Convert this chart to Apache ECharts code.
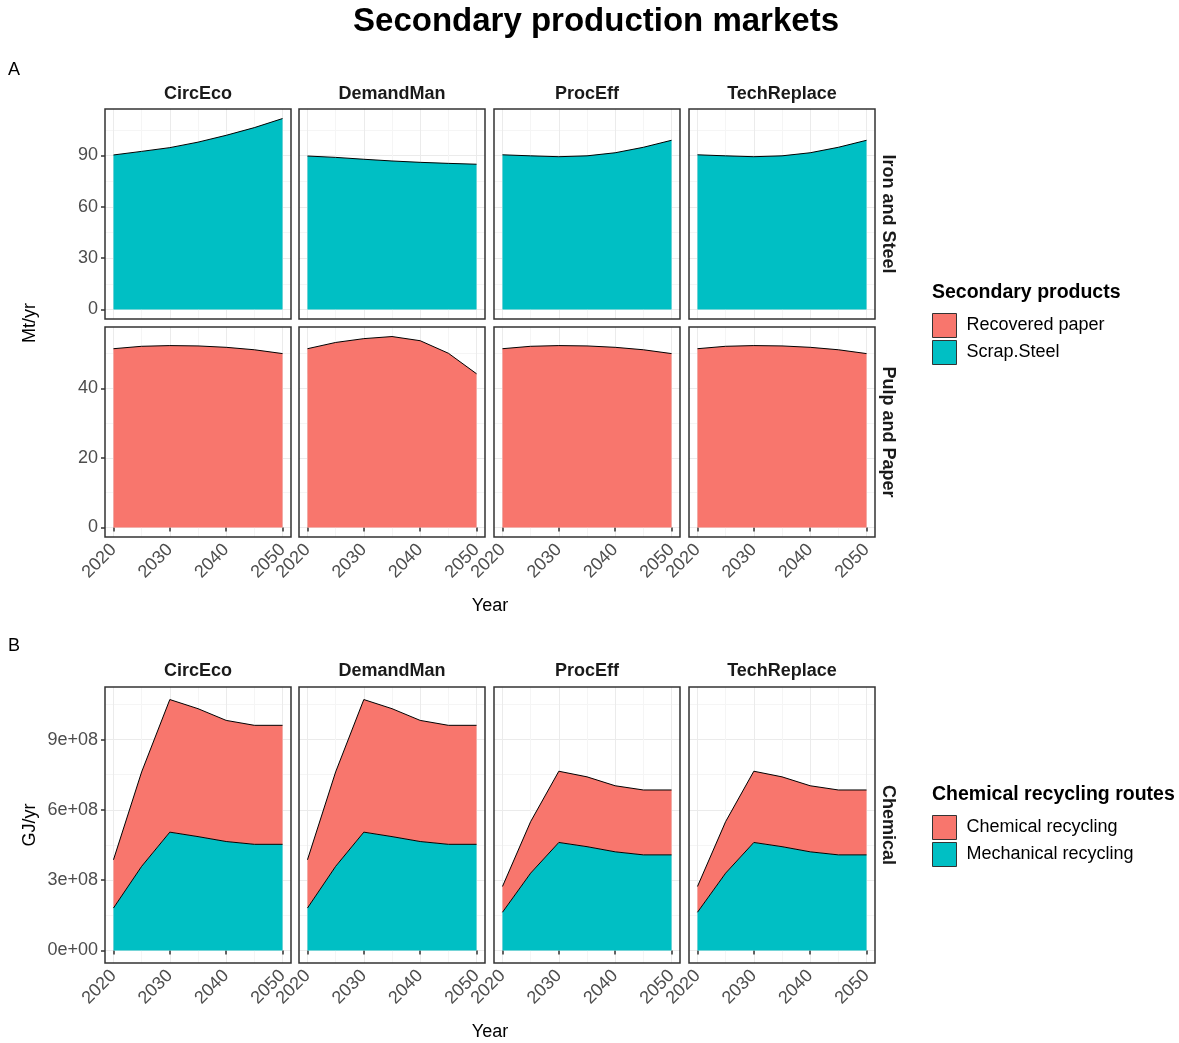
<!DOCTYPE html>
<html>
<head>
<meta charset="utf-8">
<script src="https://cdn.jsdelivr.net/npm/echarts@6/dist/echarts.min.js"></script>
<style>
  html, body { margin: 0; padding: 0; background: #ffffff; }
  #chart { width: 1179px; height: 1043px; }
</style>
</head>
<body>
<div id="chart"></div>
<script>
// ---- data ----------------------------------------------------------------
const years = [2020, 2025, 2030, 2035, 2040, 2045, 2050];
const scenarios = ['CircEco', 'DemandMan', 'ProcEff', 'TechReplace'];

// Iron and Steel: Scrap.Steel (Mt/yr)
const scrapSteelCircEco     = [90.3, 92.4, 94.6, 97.8, 101.8, 106.3, 111.6];
const scrapSteelDemandMan   = [89.7, 88.9, 87.8, 86.8, 86.0, 85.4, 84.9];
const scrapSteelProcEff     = [90.4, 89.8, 89.3, 89.8, 91.6, 94.8, 98.9];
const scrapSteelTechReplace = [90.4, 89.8, 89.3, 89.8, 91.6, 94.8, 98.9];

// Pulp and Paper: Recovered paper (Mt/yr)
const paperCircEco     = [51.4, 52.1, 52.3, 52.2, 51.8, 51.1, 50.0];
const paperDemandMan   = [51.4, 53.2, 54.3, 54.9, 53.7, 50.1, 44.2];
const paperProcEff     = [51.4, 52.1, 52.3, 52.2, 51.8, 51.1, 50.0];
const paperTechReplace = [51.4, 52.1, 52.3, 52.2, 51.8, 51.1, 50.0];

// Chemical: recycling routes (GJ/yr)
const mechCircEco     = [1.81e8, 3.59e8, 5.05e8, 4.86e8, 4.65e8, 4.53e8, 4.53e8];
const chemCircEco     = [2.06e8, 4.03e8, 5.66e8, 5.46e8, 5.17e8, 5.08e8, 5.08e8];
const mechDemandMan   = [1.81e8, 3.59e8, 5.05e8, 4.86e8, 4.65e8, 4.53e8, 4.53e8];
const chemDemandMan   = [2.06e8, 4.03e8, 5.66e8, 5.46e8, 5.17e8, 5.08e8, 5.08e8];
const mechProcEff     = [1.63e8, 3.30e8, 4.61e8, 4.43e8, 4.21e8, 4.08e8, 4.08e8];
const chemProcEff     = [1.10e8, 2.20e8, 3.04e8, 2.98e8, 2.82e8, 2.77e8, 2.77e8];
const mechTechReplace = [1.63e8, 3.30e8, 4.61e8, 4.43e8, 4.21e8, 4.08e8, 4.08e8];
const chemTechReplace = [1.10e8, 2.20e8, 3.04e8, 2.98e8, 2.82e8, 2.77e8, 2.77e8];

// tick values
const xMajorTicks = [2020, 2030, 2040, 2050];
const xMinorTicks = [2025, 2035, 2045];
const steelMajorTicks = [0, 30, 60, 90];
const steelMinorTicks = [15, 45, 75, 105];
const paperMajorTicks = [0, 20, 40];
const paperMinorTicks = [10, 30, 50];
const chemMajorTicks = [0, 3e8, 6e8, 9e8];
const chemMinorTicks = [1.5e8, 4.5e8, 7.5e8, 10.5e8];

// ---- styling / layout ----------------------------------------------------
const FONT = 'Liberation Sans, Arial, sans-serif';
const PINK = '#F8766D';
const TEAL = '#00BFC4';
const COL_LEFT = [105, 299, 494, 689];
const COL_W = 186;
const X_MIN = 2018.5, X_MAX = 2051.5;

function sci(v) {
  if (v === 0) return '0e+00';
  const e = Math.floor(Math.log10(Math.abs(v)) + 1e-9);
  const m = v / Math.pow(10, e);
  return m.toFixed(0) + 'e' + (e < 0 ? '-' : '+') + String(Math.abs(e)).padStart(2, '0');
}

const rows = [
  {
    top: 109, height: 210, strip: 'Iron and Steel', showX: false,
    major: steelMajorTicks, minor: steelMinorTicks, fmt: v => String(v),
    layers: [
      { name: 'Scrap.Steel', color: TEAL,
        values: [scrapSteelCircEco, scrapSteelDemandMan, scrapSteelProcEff, scrapSteelTechReplace] }
    ]
  },
  {
    top: 327, height: 210, strip: 'Pulp and Paper', showX: true,
    major: paperMajorTicks, minor: paperMinorTicks, fmt: v => String(v),
    layers: [
      { name: 'Recovered paper', color: PINK,
        values: [paperCircEco, paperDemandMan, paperProcEff, paperTechReplace] }
    ]
  },
  {
    top: 687, height: 276, strip: 'Chemical', showX: true,
    major: chemMajorTicks, minor: chemMinorTicks, fmt: sci,
    layers: [
      { name: 'Mechanical recycling', color: TEAL,
        values: [mechCircEco, mechDemandMan, mechProcEff, mechTechReplace] },
      { name: 'Chemical recycling', color: PINK,
        values: [chemCircEco, chemDemandMan, chemProcEff, chemTechReplace] }
    ]
  }
];

const grids = [], xAxes = [], yAxes = [], series = [], frames = [];
const tickLine = { color: '#333333', width: 1.5 };
const labelText = { fontFamily: FONT, fontSize: 18, color: '#4D4D4D' };

rows.forEach((row, r) => {
  // shared y range for the row (stack totals, 5% padding either side)
  let rowMax = 0;
  for (let c = 0; c < scenarios.length; c++) {
    for (let i = 0; i < years.length; i++) {
      let s = 0;
      row.layers.forEach(l => { s += l.values[c][i]; });
      rowMax = Math.max(rowMax, s);
    }
  }
  const yMin = -0.05 * rowMax, yMax = 1.05 * rowMax;

  scenarios.forEach((sc, c) => {
    const g = grids.length;
    grids.push({
      left: COL_LEFT[c], top: row.top, width: COL_W, height: row.height,
      show: false, containLabel: false
    });
    // panel frame, drawn over the grid lines
    frames.push({
      type: 'rect', silent: true, z: 100,
      shape: { x: COL_LEFT[c], y: row.top, width: COL_W, height: row.height },
      style: { fill: null, stroke: '#333333', lineWidth: 1.5 }
    });
    const xi = xAxes.length;
    // major x axis (ticks, labels, major grid)
    xAxes.push({
      type: 'value', gridIndex: g, min: X_MIN, max: X_MAX, position: 'bottom',
      axisLine: { show: false },
      axisTick: { show: row.showX, customValues: xMajorTicks, length: 4, lineStyle: tickLine },
      axisLabel: Object.assign({ show: row.showX, customValues: xMajorTicks, rotate: 45, margin: 10,
        formatter: v => String(v) }, labelText),
      splitLine: { show: true, lineStyle: { color: '#EBEBEB', width: 1 } }
    });
    // minor x grid
    xAxes.push({
      type: 'value', gridIndex: g, min: X_MIN, max: X_MAX, position: 'top',
      axisLine: { show: false },
      axisTick: { show: false, customValues: xMinorTicks },
      axisLabel: { show: false },
      splitLine: { show: true, lineStyle: { color: '#F5F5F5', width: 1 } }
    });
    const yi = yAxes.length;
    yAxes.push({
      type: 'value', gridIndex: g, min: yMin, max: yMax, position: 'left',
      axisLine: { show: false },
      axisTick: { show: c === 0, customValues: row.major, length: 4, lineStyle: tickLine },
      axisLabel: Object.assign({ show: c === 0, customValues: row.major, margin: 7,
        formatter: row.fmt }, labelText),
      splitLine: { show: true, lineStyle: { color: '#EBEBEB', width: 1 } }
    });
    yAxes.push({
      type: 'value', gridIndex: g, min: yMin, max: yMax, position: 'right',
      axisLine: { show: false },
      axisTick: { show: false, customValues: row.minor },
      axisLabel: { show: false },
      splitLine: { show: true, lineStyle: { color: '#F5F5F5', width: 1 } }
    });

    row.layers.forEach(layer => {
      series.push({
        type: 'line', name: layer.name,
        xAxisIndex: xi, yAxisIndex: yi,
        stack: 'r' + r + 'c' + c,
        // value first so the stack is applied to the y dimension
        data: years.map((y, i) => [layer.values[c][i], y]),
        encode: { x: 1, y: 0 },
        symbol: 'none', smooth: false,
        lineStyle: { color: '#000000', width: 1 },
        itemStyle: { color: layer.color },
        areaStyle: { color: layer.color, opacity: 1 },
        emphasis: { disabled: true },
        silent: true
      });
    });
  });
});

// ---- text: title, tags, strips, axis titles, legend titles -------------
const graphics = frames.slice();
function txt(x, y, text, font, opts) {
  graphics.push(Object.assign({
    type: 'text', x: x, y: y, silent: true,
    style: Object.assign({ text: text, font: font, fill: '#000000',
      textAlign: 'center', textVerticalAlign: 'middle' }, (opts && opts.style) || {})
  }, (opts && opts.el) || {}));
}
txt(596, 22, 'Secondary production markets', 'bold 33px ' + FONT);
txt(8, 70, 'A', '18px ' + FONT, { style: { textAlign: 'left' } });
txt(8, 646, 'B', '18px ' + FONT, { style: { textAlign: 'left' } });

scenarios.forEach((sc, c) => {
  const cx = COL_LEFT[c] + COL_W / 2;
  txt(cx, 94, sc, 'bold 18px ' + FONT, { style: { fill: '#1A1A1A' } });
  txt(cx, 671, sc, 'bold 18px ' + FONT, { style: { fill: '#1A1A1A' } });
});
rows.forEach(row => {
  txt(888, row.top + row.height / 2, row.strip, 'bold 18px ' + FONT,
    { style: { fill: '#1A1A1A' }, el: { rotation: -Math.PI / 2 } });
});
txt(30, 323, 'Mt/yr', '18px ' + FONT, { el: { rotation: Math.PI / 2 } });
txt(30, 825, 'GJ/yr', '18px ' + FONT, { el: { rotation: Math.PI / 2 } });
txt(490, 606, 'Year', '18px ' + FONT);
txt(490, 1032, 'Year', '18px ' + FONT);
txt(932, 293, 'Secondary products', 'bold 19.5px ' + FONT, { style: { textAlign: 'left' } });
txt(932, 795, 'Chemical recycling routes', 'bold 19.5px ' + FONT, { style: { textAlign: 'left' } });

const legendBase = {
  orient: 'vertical', left: 932, itemWidth: 24, itemHeight: 24, itemGap: 2, padding: 0,
  icon: 'rect', selectedMode: false,
  itemStyle: { borderColor: '#333333', borderWidth: 1 },
  textStyle: { fontFamily: FONT, fontSize: 18, color: '#000000', padding: [0, 0, 0, 5] }
};

const chart = echarts.init(document.getElementById('chart'), null, { renderer: 'canvas' });
chart.setOption({
  animation: false,
  backgroundColor: '#ffffff',
  grid: grids,
  xAxis: xAxes,
  yAxis: yAxes,
  series: series,
  legend: [
    Object.assign({}, legendBase, { top: 313, data: ['Recovered paper', 'Scrap.Steel'] }),
    Object.assign({}, legendBase, { top: 815, data: ['Chemical recycling', 'Mechanical recycling'] })
  ],
  graphic: graphics
});
</script>
</body>
</html>
